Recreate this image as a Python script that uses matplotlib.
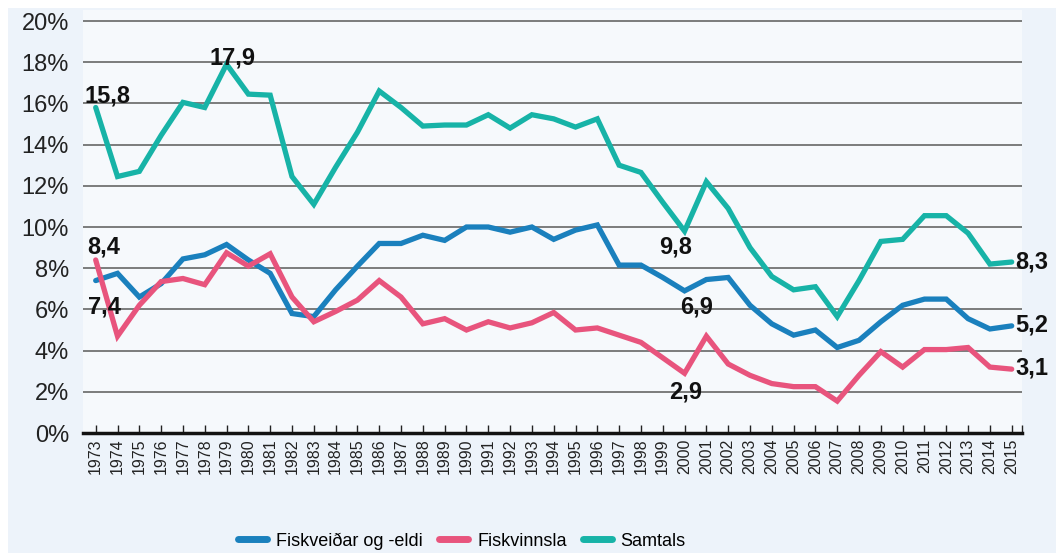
import matplotlib
matplotlib.use("Agg")
import matplotlib.pyplot as plt

years = list(range(1973, 2016))

fiskveidar = [7.4, 7.75, 6.6, 7.25, 8.45, 8.65, 9.15, 8.4, 7.75, 5.8, 5.65, 6.95, 8.1,
              9.2, 9.2, 9.6, 9.35, 10.0, 10.0, 9.75, 10.0, 9.4, 9.85, 10.1, 8.15, 8.15,
              7.55, 6.9, 7.45, 7.55, 6.2, 5.3, 4.75, 5.0, 4.15, 4.5, 5.4, 6.2, 6.5, 6.5,
              5.55, 5.05, 5.2]
fiskvinnsla = [8.4, 4.7, 6.2, 7.35, 7.5, 7.2, 8.75, 8.1, 8.7, 6.6, 5.4, 5.9, 6.45,
               7.4, 6.6, 5.3, 5.55, 5.0, 5.4, 5.1, 5.35, 5.85, 5.0, 5.1, 4.75, 4.4,
               3.65, 2.9, 4.7, 3.35, 2.8, 2.4, 2.25, 2.25, 1.55, 2.8, 3.95, 3.2, 4.05,
               4.05, 4.15, 3.2, 3.1]
samtals = [15.8, 12.45, 12.7, 14.45, 16.05, 15.8, 17.9, 16.45, 16.4, 12.45, 11.1, 12.9,
           14.6, 16.6, 15.8, 14.9, 14.95, 14.95, 15.45, 14.8, 15.45, 15.25, 14.85, 15.25,
           13.0, 12.65, 11.2, 9.8, 12.2, 10.9, 9.0, 7.6, 6.95, 7.1, 5.65, 7.4, 9.3, 9.4,
           10.55, 10.55, 9.7, 8.2, 8.3]

series_names = ["Fiskveiðar og -eldi", "Fiskvinnsla", "Samtals"]
colors = ["#1a80bd", "#e8547d", "#17b3a7"]

yticks = [0, 2, 4, 6, 8, 10, 12, 14, 16, 18, 20]
ytick_labels = ["0%", "2%", "4%", "6%", "8%", "10%", "12%", "14%", "16%", "18%", "20%"]

# (year index, series, label, dx px, dy px, ha)
annotations = [
    (0, "samtals", "15,8", -11, 12, "left"),
    (6, "samtals", "17,9", 6, 6, "center"),
    (0, "fiskvinnsla", "8,4", -8, 13, "left"),
    (0, "fiskveidar", "7,4", -8, -26, "left"),
    (27, "samtals", "9,8", -9, -16, "center"),
    (27, "fiskveidar", "6,9", 12, -16, "center"),
    (27, "fiskvinnsla", "2,9", 1, -19, "center"),
    (42, "samtals", "8,3", 4, 0, "left"),
    (42, "fiskveidar", "5,2", 4, 1, "left"),
    (42, "fiskvinnsla", "3,1", 4, 1, "left"),
]

W, H = 1056, 553
fig = plt.figure(figsize=(W / 100, H / 100), dpi=100)
fig.patch.set_facecolor("white")
bg = fig.add_axes([8 / W, 0, 1 - 8 / W, 1 - 8 / H], zorder=-5)
bg.set_facecolor("#edf3fa")
bg.set_xticks([]); bg.set_yticks([])
for s in bg.spines.values():
    s.set_visible(False)

left, right, bottom, top_px = 83, 1022, 433, 10
ax = fig.add_axes([left / W, 1 - bottom / H, (right - left) / W, (bottom - top_px) / H], zorder=1)
ax.set_facecolor("#f6f9fc")
px_per_unit = (433 - 21) / 20.0
ax.set_ylim(0, 20 + (21 - top_px) / px_per_unit)
x0 = years[0] - (95.7 - left) / 21.8
x1 = years[-1] + (right - 1011.7) / 21.8
ax.set_xlim(x0, x1)

for y in yticks[1:]:
    ax.axhline(y, color="#5a5a5a", lw=1.1, zorder=1)

data = {"fiskveidar": fiskveidar, "fiskvinnsla": fiskvinnsla, "samtals": samtals}
for key, name, c in zip(["fiskveidar", "fiskvinnsla", "samtals"], series_names, colors):
    ax.plot(years, data[key], color=c, lw=3.8, label=name, zorder=3,
            solid_joinstyle="miter", solid_capstyle="round")

for idx, key, txt, dx, dy, ha in annotations:
    ax.annotate(txt, (years[idx], data[key][idx]), xytext=(dx * 0.72, dy * 0.72),
                textcoords="offset points", ha=ha, va="center",
                fontsize=17, fontweight="bold", family="Liberation Sans", color="#111111",
                zorder=5, annotation_clip=False)

for s in ["left", "right", "top"]:
    ax.spines[s].set_visible(False)
ax.spines["bottom"].set_linewidth(2.5)
ax.spines["bottom"].set_color("#111111")

ax.set_yticks(yticks)
ax.set_yticklabels(ytick_labels, family="Liberation Sans", fontsize=17, color="#222222")
ax.tick_params(axis="y", length=0, pad=10)
ax.set_xticks(years)
ax.set_xticklabels([str(y) for y in years], rotation=90, family="Liberation Sans",
                   fontsize=11.5, color="#222222")
ax.set_xticks([years[-1] + 0.45], minor=True)
ax.tick_params(axis="x", which="both", direction="in", length=6, width=1.0,
               color="#222222", pad=4)

leg = fig.legend(loc="center", bbox_to_anchor=(462 / W, 1 - 541 / H), ncol=3, frameon=False,
                 prop={"family": "Liberation Sans", "size": 13}, handlelength=1.6,
                 columnspacing=0.9, handletextpad=0.5)
for line in leg.get_lines():
    line.set_linewidth(5)
    line.set_solid_capstyle("round")

fig.savefig("out.png", dpi=100, facecolor=fig.get_facecolor())
